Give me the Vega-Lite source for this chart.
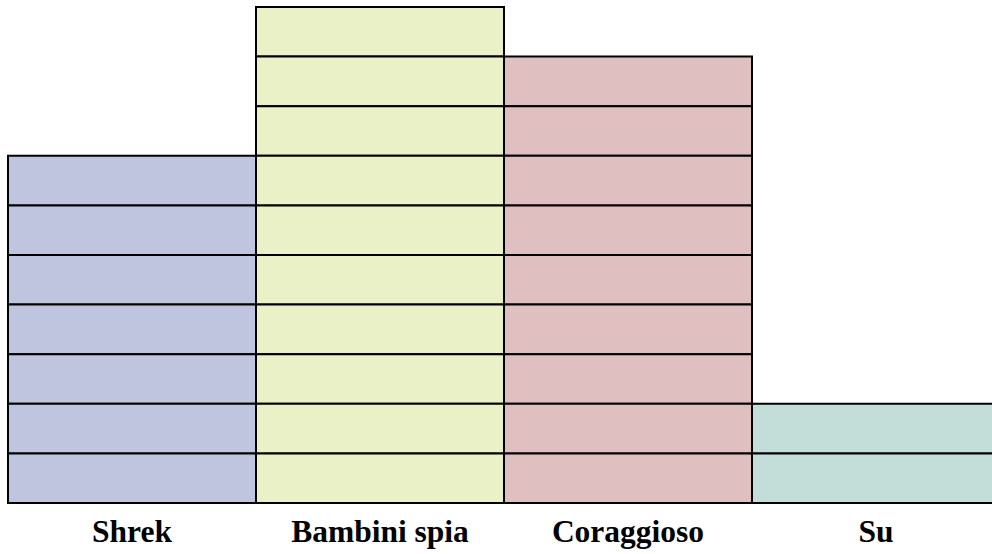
{
  "$schema": "https://vega.github.io/schema/vega-lite/v6.json",
  "width": 992,
  "height": 496,
  "autosize": {"type": "none"},
  "padding": {"left": 8, "top": 7, "right": 0, "bottom": 51},
  "background": "white",
  "config": {"view": {"stroke": null}},
  "data": {
    "values": [
      {"film": "Shrek", "unit": 1}, {"film": "Shrek", "unit": 2}, {"film": "Shrek", "unit": 3}, {"film": "Shrek", "unit": 4}, {"film": "Shrek", "unit": 5}, {"film": "Shrek", "unit": 6}, {"film": "Shrek", "unit": 7},
      {"film": "Bambini spia", "unit": 1}, {"film": "Bambini spia", "unit": 2}, {"film": "Bambini spia", "unit": 3}, {"film": "Bambini spia", "unit": 4}, {"film": "Bambini spia", "unit": 5}, {"film": "Bambini spia", "unit": 6}, {"film": "Bambini spia", "unit": 7}, {"film": "Bambini spia", "unit": 8}, {"film": "Bambini spia", "unit": 9}, {"film": "Bambini spia", "unit": 10},
      {"film": "Coraggioso", "unit": 1}, {"film": "Coraggioso", "unit": 2}, {"film": "Coraggioso", "unit": 3}, {"film": "Coraggioso", "unit": 4}, {"film": "Coraggioso", "unit": 5}, {"film": "Coraggioso", "unit": 6}, {"film": "Coraggioso", "unit": 7}, {"film": "Coraggioso", "unit": 8}, {"film": "Coraggioso", "unit": 9},
      {"film": "Su", "unit": 1}, {"film": "Su", "unit": 2}
    ]
  },
  "mark": {"type": "bar", "stroke": "black", "strokeWidth": 2, "opacity": 1},
  "encoding": {
    "x": {
      "field": "film", "type": "nominal",
      "sort": ["Shrek", "Bambini spia", "Coraggioso", "Su"],
      "scale": {"paddingInner": 0, "paddingOuter": 0},
      "axis": {"title": null, "ticks": false, "domain": false, "labelAngle": 0, "labelFont": "Liberation Serif", "labelFontWeight": "bold", "labelFontSize": 31.5, "labelColor": "black", "labelBaseline": "alphabetic", "labelPadding": 38}
    },
    "y": {"aggregate": "count", "type": "quantitative", "scale": {"domain": [0, 10], "nice": false}, "axis": null},
    "detail": {"field": "unit", "type": "ordinal"},
    "color": {
      "field": "film", "type": "nominal",
      "scale": {"domain": ["Shrek", "Bambini spia", "Coraggioso", "Su"], "range": ["#c0c5df", "#ebf1c7", "#dfbfc0", "#c3ded9"]},
      "legend": null
    }
  }
}
